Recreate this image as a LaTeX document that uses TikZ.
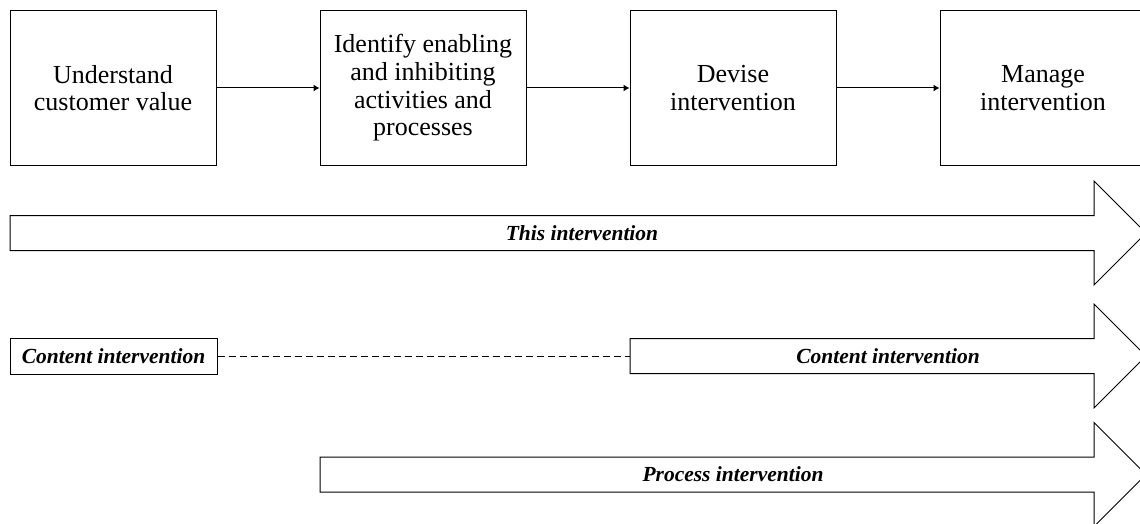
\documentclass[tikz,border=0pt]{standalone}
\usepackage{fontspec}
\setmainfont{Liberation Serif}
\usetikzlibrary{arrows.meta}

\tikzset{
  stagebox/.style={draw, line width=1pt, minimum width=206pt, minimum height=154pt,
    align=center, inner sep=0pt, font=\fontsize{26}{27.7}\selectfont},
  labelbox/.style={draw, line width=1pt, minimum width=207pt, minimum height=36pt,
    inner sep=0pt, font=\fontsize{21.5}{25}\selectfont\bfseries\itshape},
  bandlabel/.style={inner sep=0pt, font=\fontsize{21.5}{25}\selectfont\bfseries\itshape},
  flow/.style={line width=1pt, -{Latex[length=6pt,width=7pt]}},
  band/.style={draw, line width=1pt, line join=miter},
  link/.style={line width=1pt, dash pattern=on 7pt off 4pt}
}

% wide block arrow: tail x, centre y, head base x, tip x
\newcommand\blockarrow[4]{%
  \draw[band] (#1,#2-17.5) -- (#3,#2-17.5) -- (#3,#2-52) -- (#4,#2)
    -- (#3,#2+52) -- (#3,#2+17.5) -- (#1,#2+17.5) -- cycle;}

\begin{document}
\begin{tikzpicture}[x=1pt,y=-1pt]
  \useasboundingbox (0,0) rectangle (1140,524);
  \clip (0,0) rectangle (1140,524);

  % process stages
  \node[stagebox] (s1) at (113,88) {Understand\\customer value};
  \node[stagebox] (s2) at (423,88) {Identify enabling\\and inhibiting\\activities and\\processes};
  \node[stagebox] (s3) at (733,88) {Devise\\intervention};
  \node[stagebox] (s4) at (1043,88) {Manage\\intervention};

  \draw[flow] (s1.east) -- (s2.west);
  \draw[flow] (s2.east) -- (s3.west);
  \draw[flow] (s3.east) -- (s4.west);

  % this intervention
  \blockarrow{10}{233}{1094}{1146}
  \node[bandlabel] (this) at (582,233) {This intervention};

  % content intervention
  \node[labelbox] (cbox) at (113.5,356) {Content intervention};
  \blockarrow{630}{356}{1094}{1146}
  \coordinate (ctail) at (630,356);
  \node[bandlabel] (content) at (888,356) {Content intervention};
  \draw[link] (cbox.east) -- (ctail);

  % process intervention
  \blockarrow{320}{474.5}{1094}{1146}
  \node[bandlabel] (process) at (733,474.5) {Process intervention};
\end{tikzpicture}
\end{document}
